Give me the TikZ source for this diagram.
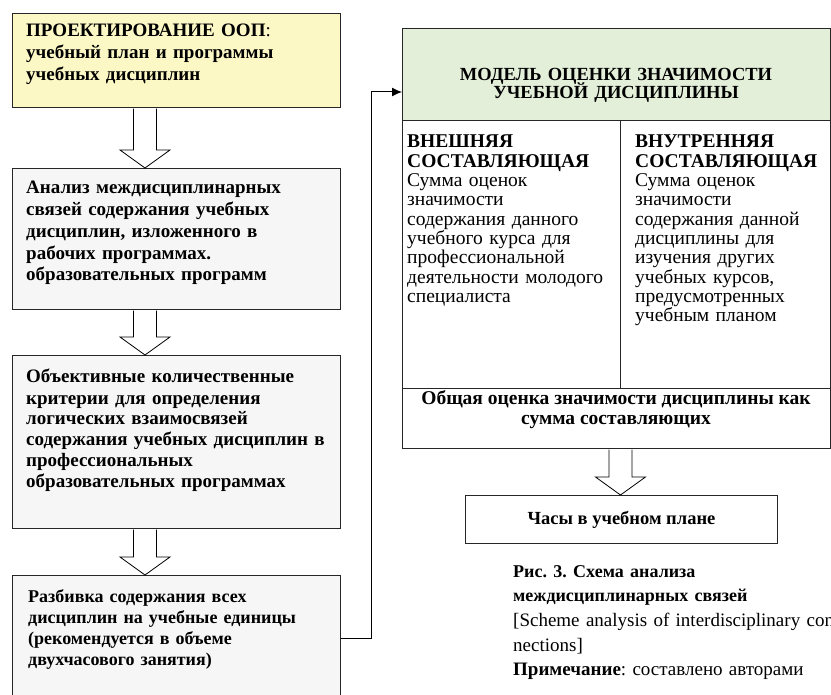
\documentclass[tikz,border=0pt]{standalone}
\usepackage{fontspec}
\setmainfont{Liberation Serif}
\usetikzlibrary{positioning,calc,arrows.meta}
\frenchspacing

\definecolor{planyellow}{RGB}{252,248,198}
\definecolor{stepgray}{RGB}{246,246,246}
\definecolor{modelgreen}{RGB}{228,239,218}

\tikzset{
  frame/.style={draw=black!85, line width=1pt, inner sep=0pt, anchor=north west},
  stepbox/.style={frame, fill=stepgray, minimum width=328pt},
  boxtext/.style={anchor=base west, inner sep=0pt, align=left, text width=310pt,
    font=\fontsize{19}{21.7}\selectfont\bfseries},
  coltext/.style={anchor=base west, inner sep=0pt, align=left, text width=200pt,
    font=\fontsize{19.5}{19.3}\selectfont},
  hollow/.style={draw=black, line width=0.8pt, fill=white, line join=miter},
  link/.style={draw=black, line width=1pt, -{Latex[length=10pt,width=9pt]}}
}

% block arrow from node #1 down to node #2, along the x of #3
\newcommand{\blockarrow}[3]{%
  \path (#1.south -| #3) coordinate (ba top) (#2.north -| #3) coordinate (ba tip);
  \draw[hollow] ($(ba top)+(-11.5,0.6)$) -- ($(ba tip)+(-11.5,-18)$)
    -- ($(ba tip)+(-25,-18)$) -- (ba tip) -- ($(ba tip)+(25,-18)$)
    -- ($(ba tip)+(11.5,-18)$) -- ($(ba top)+(11.5,0.6)$);
}

\begin{document}
\begin{tikzpicture}[x=1pt, y=-1pt]
\useasboundingbox (0,0) rectangle (831,695);
\clip (0,0) rectangle (831,695);

% left column
\node[frame, fill=planyellow, minimum width=328pt, minimum height=94pt] (B1) at (12,13) {};
\node[stepbox, minimum height=141pt] (B2) at (12,168) {};
\node[stepbox, minimum height=173pt] (B3) at (12,355) {};
\node[stepbox, minimum height=125pt] (B4) at (12,575) {};

\node[boxtext, font=\fontsize{19}{22}\selectfont\bfseries] (T1) at (26,37)
  {ПРОЕКТИРОВАНИЕ ООП{\mdseries:}\\учебный план и программы\\учебных дисциплин};
\node[boxtext] (T2) at (26,194)
  {Анализ междисциплинарных\\связей содержания учебных\\дисциплин, изложенного в\\рабочих программах.\\образовательных программ};
\node[boxtext, font=\fontsize{19}{21}\selectfont\bfseries] (T3) at (26,383)
  {Объективные количественные\\критерии для определения\\логических взаимосвязей\\содержания учебных дисциплин в\\профессиональных\\образовательных программах};
\node[boxtext, font=\fontsize{18}{21}\selectfont\bfseries] (T4) at (28,602)
  {Разбивка содержания всех\\дисциплин на учебные единицы\\(рекомендуется в объеме\\двухчасового занятия)};

\coordinate (flowx) at (145,0);
\blockarrow{B1}{B2}{flowx}
\blockarrow{B2}{B3}{flowx}
\blockarrow{B3}{B4}{flowx}

% model
\node[frame, fill=modelgreen, minimum width=428pt, minimum height=92pt] (model) at (402,28) {};
\node[frame, minimum width=218pt, minimum height=268pt] (outer) at (402,120) {};
\node[frame, minimum width=210pt, minimum height=268pt] (inner) at (620,120) {};
\node[frame, minimum width=428pt, minimum height=60pt] (total) at (402,388) {};
\node[frame, minimum width=312pt, minimum height=48pt] (hours) at (465,495) {};

\node[align=center, inner sep=0pt, text width=420pt,
  font={\fontsize{18.5}{18.5}\selectfont\bfseries\lineskiplimit=-20pt\relax}] (title) at (616,85.5)
  {МОДЕЛЬ ОЦЕНКИ ЗНАЧИМОСТИ\\УЧЕБНОЙ ДИСЦИПЛИНЫ};
\node[coltext] (outerT) at (407,148)
  {\textbf{ВНЕШНЯЯ}\\\textbf{СОСТАВЛЯЮЩАЯ}\\Сумма оценок\\значимости\\содержания данного\\учебного курса для\\профессиональной\\деятельности молодого\\специалиста};
\node[coltext] (innerT) at (635,148)
  {\textbf{ВНУТРЕННЯЯ}\\\textbf{СОСТАВЛЯЮЩАЯ}\\Сумма оценок\\значимости\\содержания данной\\дисциплины для\\изучения других\\учебных курсов,\\предусмотренных\\учебным планом};
\node[align=center, inner sep=0pt, font=\fontsize{19.5}{20}\selectfont\bfseries] (totalT) at (616,410)
  {Общая оценка значимости дисциплины как\\сумма составляющих};
\node[inner sep=0pt, font=\fontsize{18.5}{18}\selectfont\bfseries] (hoursT) at (hours.center)
  {Часы в учебном плане};

\coordinate (modelx) at (620.5,0);
\blockarrow{total}{hours}{modelx}

% link to the model
\coordinate (bend) at (371,92);
\draw[link] (B4.east) -| (bend) -- (bend -| model.west);

% caption
\node[anchor=base west, inner sep=0pt, align=left, text width=330pt, font=\fontsize{19}{24.7}\selectfont] (caption) at (513,577)
  {{\fontsize{18}{24.7}\selectfont\bfseries Рис. 3. Схема анализа\\междисциплинарных связей}\\{[}Scheme analysis of interdisciplinary con\\nections]\\\textbf{Примечание}: составлено авторами};
\end{tikzpicture}
\end{document}
